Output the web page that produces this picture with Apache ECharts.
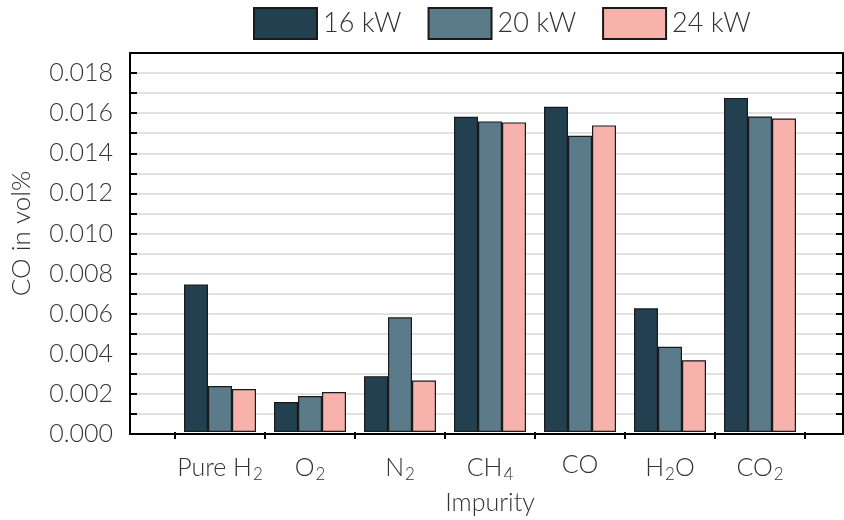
<!DOCTYPE html>
<html><head><meta charset="utf-8">
<script src="https://cdn.jsdelivr.net/npm/echarts@6/dist/echarts.min.js"></script>
<style>html,body{margin:0;padding:0;background:#fff}#c{width:844px;height:520px}</style>
</head><body><div id="c"></div>
<script>
const categories = ['Pure H{s|2}', 'O{s|2}', 'N{s|2}', 'CH{s|4}', 'CO', 'H{s|2}O', 'CO{s|2}'];
const seriesNames = ['16 kW', '20 kW', '24 kW'];
const kw16 = [0.0074, 0.0015, 0.0028, 0.0158, 0.0163, 0.0062, 0.01675];
const kw20 = [0.0023, 0.0018, 0.00575, 0.01557, 0.01485, 0.00427, 0.01582];
const kw24 = [0.00215, 0.0020, 0.00258, 0.01552, 0.01537, 0.0036, 0.01572];
const colors = ['#22404f', '#5b7a8a', '#f7b2ab'];

const FONT = 'Lato';
const TXT = '#333333';
const chart = echarts.init(document.getElementById('c'));
const vals = [kw16, kw20, kw24];
chart.setOption({
  animation: false,
  textStyle: { fontFamily: FONT },
  legend: {
    left: 253, top: 7, padding: 0, itemWidth: 63, itemHeight: 31, itemGap: 26, icon: 'rect',
    textStyle: { fontSize: 27, fontWeight: 300, color: TXT, fontFamily: FONT, padding: [0, 0, 0, 1] },
    data: seriesNames
  },
  grid: [
    { left: 130, right: 1, top: 53, bottom: 86 },
    { left: 175, right: 39, top: 53, bottom: 86 }
  ],
  xAxis: [
    { gridIndex: 0, type: 'value', min: 0, max: 1, position: 'bottom',
      axisLine: { show: true, onZero: false, lineStyle: { color: '#000', width: 2 } },
      axisTick: { show: false }, axisLabel: { show: false }, splitLine: { show: false } },
    { gridIndex: 0, type: 'value', min: 0, max: 1, position: 'top',
      axisLine: { show: true, onZero: false, lineStyle: { color: '#000', width: 2 } },
      axisTick: { show: false }, axisLabel: { show: false }, splitLine: { show: false } },
    { gridIndex: 1, type: 'category', data: categories, position: 'bottom',
      axisLine: { show: false, onZero: false },
      axisTick: { show: true, length: 7, inside: false, lineStyle: { color: '#000', width: 2 } },
      axisLabel: {
        interval: 0, hideOverlap: false,
        margin: 20, fontSize: 25, fontWeight: 300, color: TXT, fontFamily: FONT,
        rich: { s: { fontSize: 17, fontWeight: 300, color: TXT, fontFamily: FONT, padding: [14, 0, 0, 1] } }
      },
      name: 'Impurity', nameLocation: 'middle', nameGap: 58,
      nameTextStyle: { fontSize: 25, fontWeight: 300, color: TXT, fontFamily: FONT }
    }
  ],
  yAxis: [
    { gridIndex: 0, type: 'value', min: 0, max: 0.019, interval: 0.001, position: 'left',
      axisLine: { show: true, onZero: false, lineStyle: { color: '#000', width: 2 } },
      axisTick: { show: true, inside: true, length: 7, lineStyle: { color: '#000', width: 2 } },
      axisLabel: { margin: 17, fontSize: 25, fontWeight: 300, color: TXT, fontFamily: FONT,
        formatter: v => (Math.round(v * 1000) % 2 === 0 ? v.toFixed(3) : '') },
      splitLine: { show: true, lineStyle: { color: '#d9d9d9', width: 1.5 } },
      name: 'CO in vol%', nameLocation: 'middle', nameGap: 95, nameRotate: 90,
      nameTextStyle: { fontSize: 26, fontWeight: 300, color: TXT, fontFamily: FONT, padding: [0, 0, 0, 20] } },
    { gridIndex: 0, type: 'value', min: 0, max: 0.019, interval: 0.001, position: 'right',
      axisLine: { show: true, onZero: false, lineStyle: { color: '#000', width: 2 } },
      axisTick: { show: true, inside: true, length: 7, lineStyle: { color: '#000', width: 2 } },
      axisLabel: { show: false }, splitLine: { show: false } },
    { gridIndex: 1, type: 'value', min: 0, max: 0.019, show: false, splitLine: { show: false } }
  ],
  series: seriesNames.map((n, i) => ({
    name: n, type: 'bar', xAxisIndex: 2, yAxisIndex: 2,
    data: vals[i], barGap: '0%', barCategoryGap: '20%',
    itemStyle: { color: colors[i], borderColor: '#1a1a1a', borderWidth: 1.2 }
  }))
});
</script></body></html>
